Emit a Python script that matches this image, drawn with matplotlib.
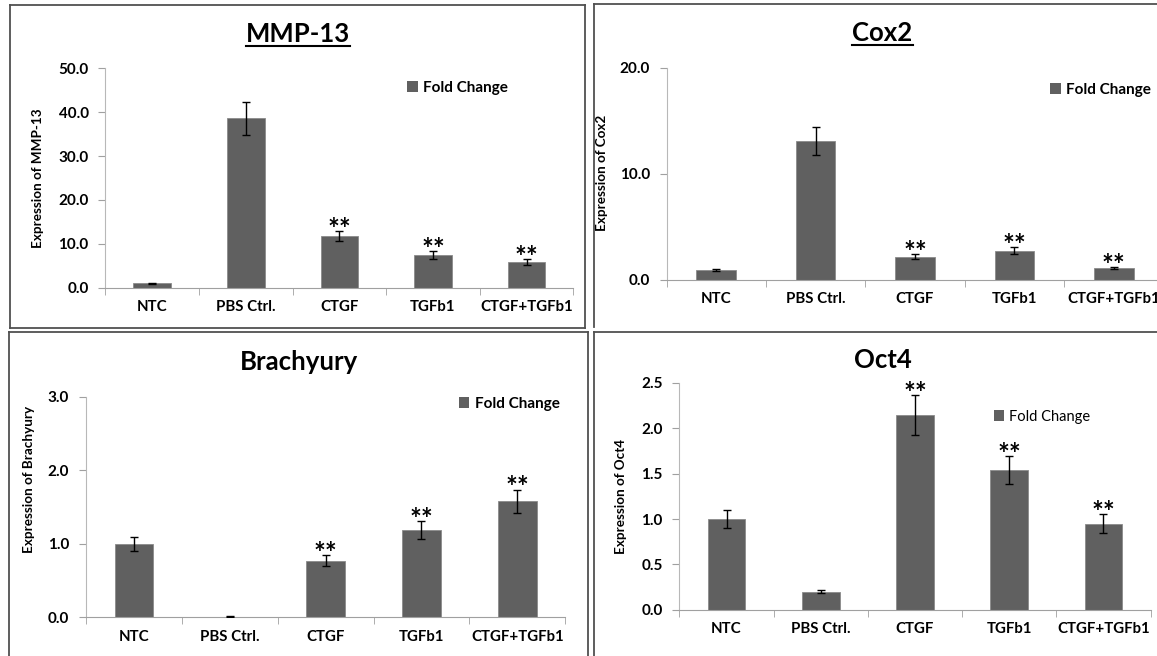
import matplotlib
matplotlib.use("Agg")
import matplotlib.pyplot as plt
from matplotlib.patches import Patch
from matplotlib.lines import Line2D

plt.rcParams['font.family'] = ['Lato', 'DejaVu Sans']

W, H = 1157, 656

categories = ['NTC', 'PBS Ctrl.', 'CTGF', 'TGFb1', 'CTGF+TGFb1']

mmp13 = [1.0, 38.6, 11.8, 7.4, 5.9]
mmp13_err = [0.1, 3.8, 1.2, 0.85, 0.7]

cox2 = [0.95, 13.1, 2.2, 2.75, 1.1]
cox2_err = [0.1, 1.3, 0.22, 0.33, 0.1]

brachyury = [1.0, 0.01, 0.77, 1.19, 1.58]
brachyury_err = [0.1, 0.003, 0.075, 0.12, 0.16]

oct4 = [1.0, 0.2, 2.15, 1.54, 0.95]
oct4_err = [0.095, 0.02, 0.22, 0.155, 0.1]

significant = [False, False, True, True, True]

bar_color = '#606060'


def frac_rect(l, t, r, b):
    return [l / W, 1 - b / H, (r - l) / W, (b - t) / H]


def frame_line(x0, y0, x1, y1):
    fig.add_artist(Line2D([x0 / W, x1 / W], [1 - y0 / H, 1 - y1 / H],
                          transform=fig.transFigure, color='#505050', lw=1.3))


fig = plt.figure(figsize=(W / 100, H / 100), dpi=100)

# panel frames, only the edges that show in the picture
frame_line(10, 4.5, 585, 4.5); frame_line(10, 328, 585, 328)
frame_line(10, 4.5, 10, 328); frame_line(585, 4.5, 585, 328)
frame_line(594, 4, 1157, 4); frame_line(594, 4, 594, 327)
frame_line(9, 332, 588, 332); frame_line(9, 332, 9, 656); frame_line(588, 332, 588, 656)
frame_line(594, 332, 1157, 332); frame_line(594, 332, 594, 656)

# one entry per chart: values, errors, title, ylabel, axes box, ylim, tick step, layout extras
panels = [
    dict(vals=mmp13, err=mmp13_err, title='MMP-13', ylabel='Expression of MMP-13',
         box=(105.4, 68.3, 573.4, 287.7), ymax=50, step=10, fmt='{:.1f}',
         title_xy=(298, 41.7), underline=True, ylabel_xy=(44, 178),
         legend_xy=(407, 88), legend_bold=True),
    dict(vals=cox2, err=cox2_err, title='Cox2', ylabel='Expression of Cox2',
         box=(666.5, 67.7, 1163.5, 280), ymax=20, step=10, fmt='{:.1f}',
         title_xy=(882.5, 40.7), underline=True, ylabel_xy=(607.6, 173),
         legend_xy=(1050, 90), legend_bold=True),
    dict(vals=brachyury, err=brachyury_err, title='Brachyury', ylabel='Expression of Brachyury',
         box=(85.8, 397, 565.3, 617.3), ymax=3, step=1, fmt='{:.1f}',
         title_xy=(299, 369.7), underline=False, ylabel_xy=(35, 479),
         legend_xy=(458.7, 404), legend_bold=True),
    dict(vals=oct4, err=oct4_err, title='Oct4', ylabel='Expression of Oct4',
         box=(679.4, 383, 1150.5, 609.7), ymax=2.5, step=0.5, fmt='{:.1f}',
         title_xy=(883, 368), underline=False, ylabel_xy=(627, 496.5),
         legend_xy=(994, 416.7), legend_bold=False),
]

titles = []
for p in panels:
    l, t, r, b = p['box']
    ax = fig.add_axes(frac_rect(l, t, r, b))
    x = range(len(categories))
    ax.bar(x, p['vals'], width=0.4, color=bar_color, edgecolor='#8a8a8a', lw=0.6, zorder=2)
    ax.errorbar(x, p['vals'], yerr=p['err'], fmt='none', ecolor='black',
                elinewidth=1, capsize=3, capthick=1, zorder=3)
    for i, (v, e) in enumerate(zip(p['vals'], p['err'])):
        if significant[i]:
            ax.annotate('**', (i, v + e), xytext=(0, -5), textcoords='offset points',
                        ha='center', va='baseline', fontsize=20, fontweight='bold')

    ax.set_xlim(-0.5, len(categories) - 0.5)
    ax.set_ylim(0, p['ymax'])
    n = int(round(p['ymax'] / p['step']))
    yt = [k * p['step'] for k in range(n + 1)]
    ax.set_yticks(yt)
    ax.set_yticklabels([p['fmt'].format(v) for v in yt], fontsize=11, fontweight='bold')
    ax.set_xticks(list(x))
    ax.set_xticklabels(categories, fontsize=10.8, fontweight='bold')
    ax.set_xticks([k - 0.5 for k in range(len(categories) + 1)], minor=True)
    ax.tick_params(axis='x', which='major', length=0, pad=9)
    ax.tick_params(axis='x', which='minor', length=5, color='#a0a0a0', direction='out')
    ax.tick_params(axis='y', length=5, color='#a0a0a0', pad=7)

    for s in ['top', 'right']:
        ax.spines[s].set_visible(False)
    ax.spines['left'].set_color('#b8b8b8')
    ax.spines['bottom'].set_color('#a0a0a0')
    ax.patch.set_alpha(0)

    ax.set_ylabel(p['ylabel'], fontsize=9.7, fontweight='bold')
    lx, ly = p['ylabel_xy']
    ax.yaxis.set_label_coords((lx - l) / (r - l), (b - ly) / (b - t))

    hx, hy = p['legend_xy']
    ax.legend([Patch(facecolor=bar_color)], ['Fold Change'], loc='center left',
              bbox_to_anchor=(hx / W, 1 - hy / H), bbox_transform=fig.transFigure,
              frameon=False, borderpad=0, borderaxespad=0, handlelength=0.7,
              handleheight=0.7, handletextpad=0.35,
              prop=dict(family=['Lato'], size=11 if p['legend_bold'] else 10.5,
                        weight='bold' if p['legend_bold'] else 'normal'))

    tx, ty = p['title_xy']
    tt = fig.text(tx / W, 1 - ty / H, p['title'], ha='center', va='baseline',
                  fontsize=18.5, fontweight='bold')
    titles.append((tt, p['underline'], ty))

fig.canvas.draw()
renderer = fig.canvas.get_renderer()
for tt, underline, ty in titles:
    if underline:
        bb = tt.get_window_extent(renderer)
        y = 1 - (ty + 4.5) / H
        fig.add_artist(Line2D([bb.x0 / W, bb.x1 / W], [y, y], transform=fig.transFigure,
                              color='black', lw=1.5))

fig.savefig('out.png', dpi=100)
